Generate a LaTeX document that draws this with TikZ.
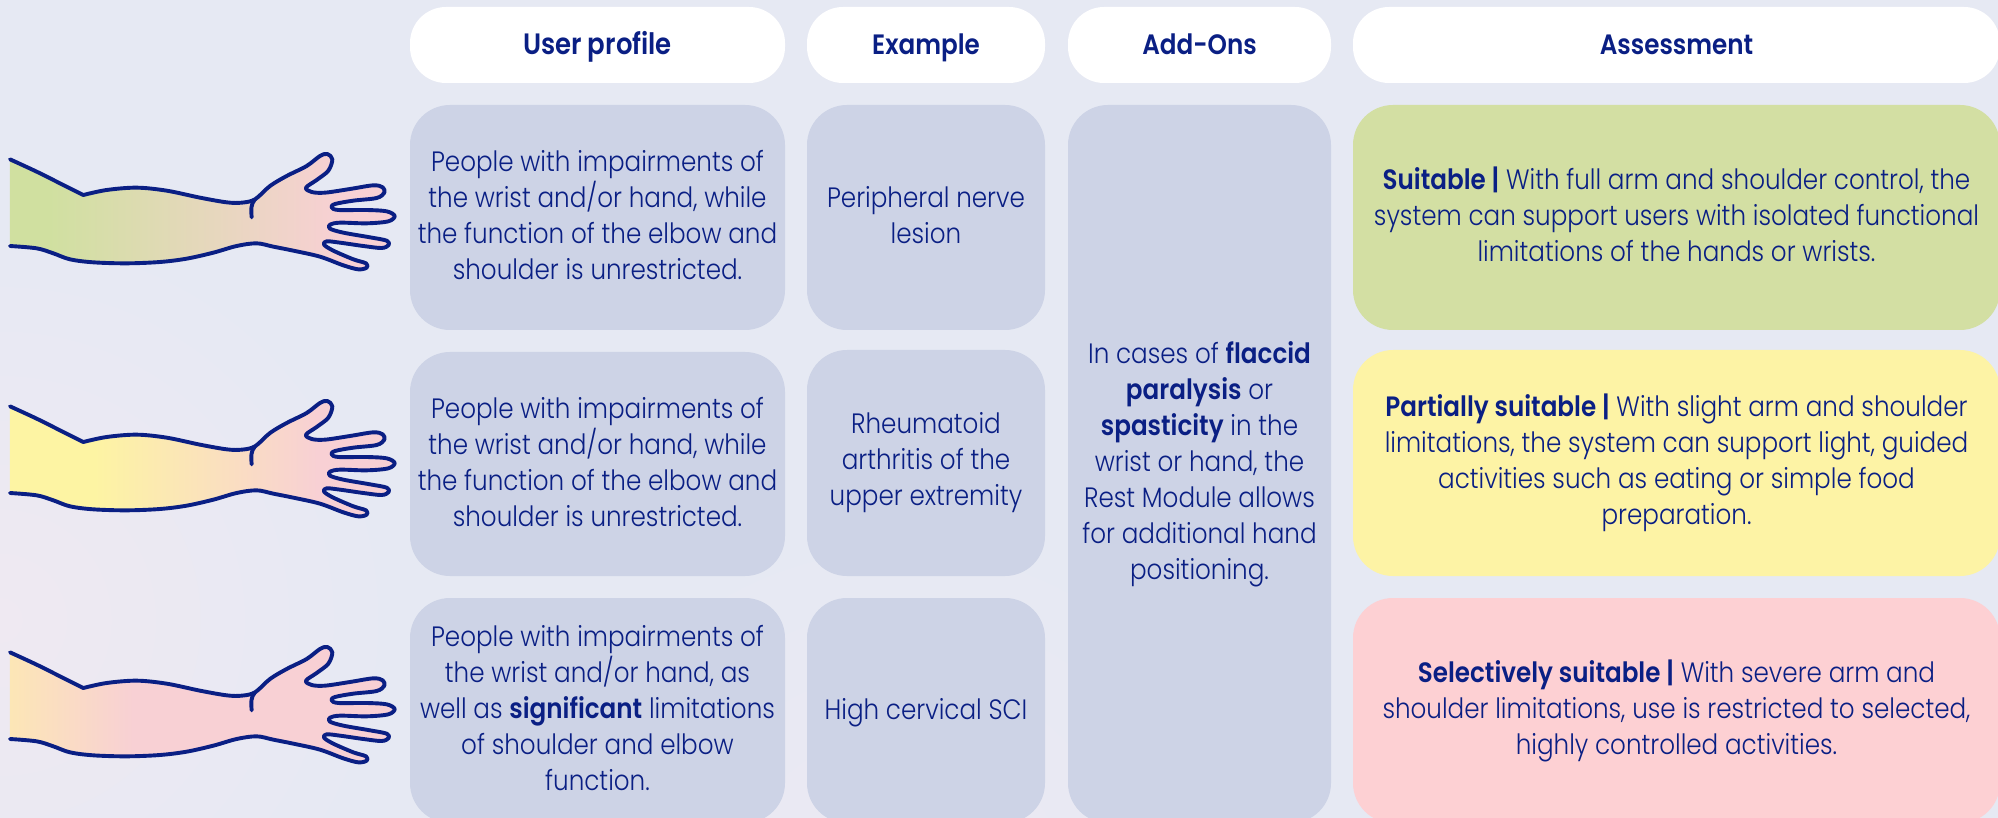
\documentclass[tikz,border=0pt]{standalone}
\usepackage{fontspec}
\setmainfont{Poppins}[UprightFont=* Light,BoldFont=* SemiBold,FakeStretch=0.88]
\definecolor{ink}{HTML}{0A1F84}
\definecolor{bgc}{HTML}{E6E9F3}
\definecolor{bgp}{HTML}{EFE9F2}
\definecolor{card}{HTML}{CDD3E6}
\definecolor{okc}{HTML}{D3DFA3}
\definecolor{midc}{HTML}{FDF3A5}
\definecolor{badc}{HTML}{FDD0D3}
\definecolor{armg}{HTML}{D0E0A0}
\definecolor{army}{HTML}{FDF4A3}
\definecolor{armo}{HTML}{FCE6B6}
\definecolor{armp}{HTML}{F8D0D4}
\pgfdeclarehorizontalshading{armA}{100bp}{color(0bp)=(armg); color(30bp)=(armg); color(68bp)=(armp); color(100bp)=(armp)}
\pgfdeclarehorizontalshading{armB}{100bp}{color(0bp)=(army); color(36bp)=(army); color(65bp)=(armp); color(100bp)=(armp)}
\pgfdeclarehorizontalshading{armC}{100bp}{color(0bp)=(armo); color(25bp)=(armo); color(41bp)=(armp); color(100bp)=(armp)}
\def\txtup{28.5}\def\txtdn{7.5}
\tikzset{
  tx/.code 2 args={\def\txtup{#1}\def\txtdn{#2}},
  base/.style={rounded corners=40pt,inner sep=0pt,align=center,text=ink,font=\fontsize{28}{36}\selectfont,
    execute at begin node={\rule{0pt}{\txtup pt}},execute at end node={\rule[-\txtdn pt]{0pt}{\txtdn pt}}},
  headbox/.style={base,tx={27.2}{8.8},fill=white,rounded corners=36pt,font=\fontsize{28}{36}\selectfont\bfseries},
  cardbox/.style={base,fill=card},
  armline/.style={draw=ink,line width=3.9pt,line join=round,line cap=round},
}
\def\armoutline{plot[smooth,tension=0.55] coordinates {(30,178)(110,215)(180,250)(250,285)} -- plot[smooth,tension=0.55] coordinates {(250,285)(320,270)(410,263)(500,272)(600,293)(680,307)(725,308)(765,298)(810,258)(860,228)(920,198)(960,168)(982,162)(997,178)(985,212)(950,240)(918,263)(935,276)(975,278)(1050,267)(1120,256)(1148,262)(1153,278)(1130,294)(1060,302)(1005,312)(995,322)(1015,330)(1100,330)(1160,334)(1184,348)(1165,364)(1100,370)(1020,368)(990,374)(990,386)(1030,398)(1110,412)(1160,422)(1166,435)(1145,444)(1090,438)(1020,428)(980,424)(972,434)(1000,452)(1060,478)(1098,490)(1100,503)(1075,508)(1030,496)(960,470)(880,452)(820,440)(770,430)(710,438)(640,458)(560,476)(480,486)(380,490)(280,487)(210,478)(160,460)(110,445)(30,438)}}
\newcommand{\drawarm}[2]{%
  \begin{scope}[x=0.33333pt,y=-0.33333pt,yshift=-#1pt]
    \shade[shading=#2] \armoutline;
    \draw[armline] \armoutline;
    \draw[armline] (765,298) .. controls (752,312) and (753,330) .. (755,352);
  \end{scope}}
\begin{document}
\begin{tikzpicture}[x=1pt,y=-1pt]
\useasboundingbox (0,0) rectangle (1998,818);
\clip (0,0) rectangle (1998,818);
\fill[bgc] (0,0) rectangle (1998,818);
\shade[inner color=bgp,outer color=bgc] (0,620) circle (400);
\shade[inner color=bgp!70!bgc,outer color=bgc] (900,900) circle (380);

\node[headbox,font=\fontsize{29.5}{36}\selectfont\bfseries,minimum width=375pt,minimum height=76pt] (hUser) at (597.5,45) {User profile};
\node[headbox,minimum width=238pt,minimum height=76pt] (hEx) at (926,45) {Example};
\node[headbox,minimum width=263pt,minimum height=76pt] (hAdd) at (1199.5,45) {Add-Ons};
\node[headbox,minimum width=647pt,minimum height=76pt] (hAss) at (1676.5,45) {Assessment};

\node[cardbox,tx={31}{5},minimum width=375pt,minimum height=225pt] (u1) at (597.5,217.5) {People with impairments of\\the wrist and/or hand, while\\the function of the elbow and\\shoulder is unrestricted.};
\node[cardbox,tx={31}{5},minimum width=375pt,minimum height=224pt] (u2) at (597.5,464) {People with impairments of\\the wrist and/or hand, while\\the function of the elbow and\\shoulder is unrestricted.};
\node[cardbox,tx={30.5}{5.5},minimum width=375pt,minimum height=225pt] (u3) at (597.5,710.5) {People with impairments of\\the wrist and/or hand, as\\well as \textbf{significant} limitations\\of shoulder and elbow\\function.};

\node[cardbox,tx={31}{5},minimum width=238pt,minimum height=225pt] (e1) at (926,217.5) {Peripheral nerve\\lesion};
\node[cardbox,tx={29.8}{6.2},minimum width=238pt,minimum height=226pt] (e2) at (926,463) {Rheumatoid\\arthritis of the\\upper extremity};
\node[cardbox,tx={27.2}{8.8},minimum width=238pt,minimum height=225pt] (e3) at (926,710.5) {High cervical SCI};

\node[cardbox,tx={29.8}{6.2},minimum width=263pt,minimum height=718pt] (add) at (1199.5,464) {In cases of \textbf{flaccid}\\\textbf{paralysis} or\\\textbf{spasticity} in the\\wrist or hand, the\\Rest Module allows\\for additional hand\\positioning.};

\node[base,tx={29.8}{6.2},fill=okc,minimum width=647pt,minimum height=225pt] (a1) at (1676.5,217.5) {\textbf{Suitable |} With full arm and shoulder control, the\\system can support users with isolated functional\\limitations of the hands or wrists.};
\node[base,fill=midc,minimum width=647pt,minimum height=226pt] (a2) at (1676.5,463) {\textbf{Partially suitable |} With slight arm and shoulder\\limitations, the system can support light, guided\\activities such as eating or simple food\\preparation.};
\node[base,fill=badc,minimum width=647pt,minimum height=225pt] (a3) at (1676.5,710.5) {\textbf{Selectively suitable |} With severe arm and\\shoulder limitations, use is restricted to selected,\\highly controlled activities.};

\drawarm{100}{armA}
\drawarm{347}{armB}
\drawarm{593}{armC}
\end{tikzpicture}
\end{document}
